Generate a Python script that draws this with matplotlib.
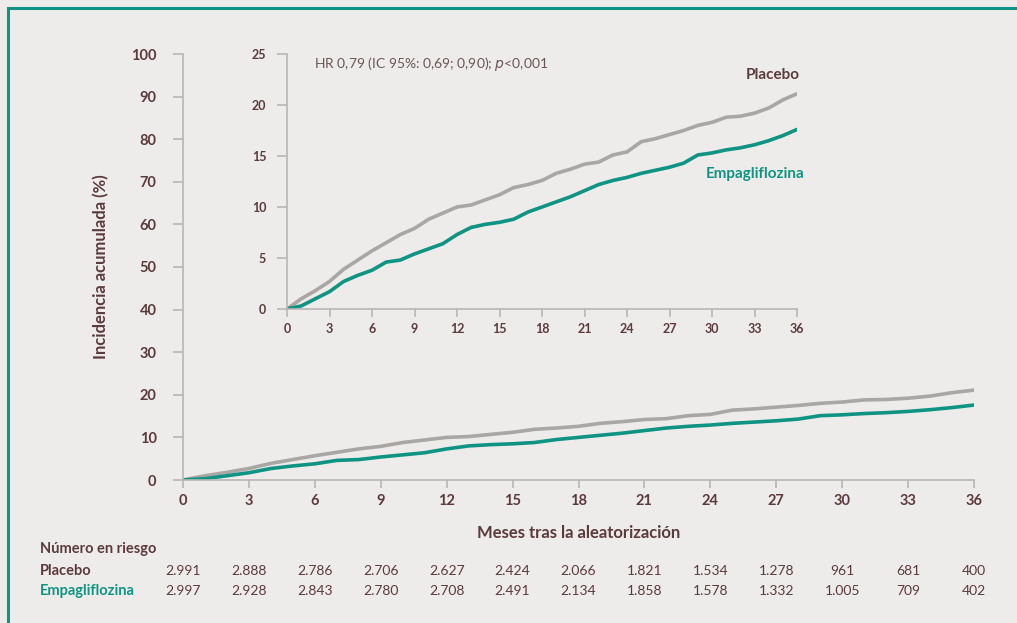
import matplotlib.pyplot as plt
from matplotlib.patches import Rectangle

# Cumulative incidence (%), one point per month
months = list(range(0, 37))
placebo = [0, 1.0, 1.8, 2.7, 3.9, 4.8, 5.7, 6.5, 7.3, 7.9, 8.8, 9.4, 10.0,
           10.2, 10.7, 11.2, 11.9, 12.2, 12.6, 13.3, 13.7, 14.2, 14.4, 15.1,
           15.4, 16.4, 16.7, 17.1, 17.5, 18.0, 18.3, 18.8, 18.9, 19.2, 19.7,
           20.5, 21.1]
empa = [0, 0.3, 1.0, 1.7, 2.7, 3.3, 3.8, 4.6, 4.8, 5.4, 5.9, 6.4, 7.3, 8.0,
        8.3, 8.5, 8.8, 9.5, 10.0, 10.5, 11.0, 11.6, 12.2, 12.6, 12.9, 13.3,
        13.6, 13.9, 14.3, 15.1, 15.3, 15.6, 15.8, 16.1, 16.5, 17.0, 17.6]

risk_months = [0, 3, 6, 9, 12, 15, 18, 21, 24, 27, 30, 33, 36]
risk_placebo = ["2.991", "2.888", "2.786", "2.706", "2.627", "2.424", "2.066",
                "1.821", "1.534", "1.278", "961", "681", "400"]
risk_empa = ["2.997", "2.928", "2.843", "2.780", "2.708", "2.491", "2.134",
             "1.858", "1.578", "1.332", "1.005", "709", "402"]

BG = "#eeecea"
TEXT = "#5b3a3c"
GREY = "#a9a6a4"
TEAL = "#0f9483"
AXIS = "#b8b6b4"

plt.rcParams["font.family"] = ["Lato", "DejaVu Sans"]

fig = plt.figure(figsize=(10.17, 6.23), dpi=100, facecolor=BG)
fig.patches.append(Rectangle((8 / 1017, -0.05), 1.2, 1.05 - 8 / 623,
                             transform=fig.transFigure, fill=False,
                             edgecolor=TEAL, linewidth=2.2))


def style_axis(ax, xticks, yticks, fs):
    ax.set_facecolor("none")
    for s in ["top", "right"]:
        ax.spines[s].set_visible(False)
    for s in ["left", "bottom"]:
        ax.spines[s].set_color(AXIS)
        ax.spines[s].set_linewidth(1.2)
    ax.set_xticks(xticks)
    ax.set_yticks(yticks)
    ax.tick_params(axis="both", colors=AXIS, width=1.2, labelcolor=TEXT,
                   labelsize=fs)
    ax.tick_params(axis="y", length=7, pad=12)
    ax.tick_params(axis="x", length=6, pad=4)
    for lab in ax.get_xticklabels() + ax.get_yticklabels():
        lab.set_fontweight("bold")


# main plot
ax = fig.add_axes([183 / 1017, 1 - 480 / 623, (974 - 183) / 1017, (480 - 54) / 623])
ax.plot(months, placebo, color=GREY, lw=2.6, solid_capstyle="round")
ax.plot(months, empa, color=TEAL, lw=2.6, solid_capstyle="round")
ax.set_xlim(0, 36)
ax.set_ylim(0, 100)
style_axis(ax, risk_months, range(0, 101, 10), 10.5)
ax.set_ylabel("Incidencia acumulada (%)", color=TEXT, fontsize=12,
              fontweight="bold", labelpad=16)
ax.set_xlabel("Meses tras la aleatorización", color=TEXT, fontsize=12,
              fontweight="bold", labelpad=12)

# inset
axi = fig.add_axes([287 / 1017, 1 - 309 / 623, (797 - 287) / 1017, (309 - 54) / 623])
axi.plot(months, placebo, color=GREY, lw=2.6, solid_capstyle="round")
axi.plot(months, empa, color=TEAL, lw=2.6, solid_capstyle="round")
axi.set_xlim(0, 36)
axi.set_ylim(0, 25)
style_axis(axi, risk_months, range(0, 26, 5), 9)
axi.tick_params(axis="y", length=7, pad=8)
axi.text(1.9, 24.0, "HR 0,79 (IC 95%: 0,69; 0,90); $\\it{p}$<0,001",
         color="#6b5556", fontsize=10, va="center")
axi.text(36.2, 22.9, "Placebo", color=TEXT, fontsize=11, fontweight="bold",
         ha="right", va="center")
axi.text(36.5, 13.2, "Empagliflozina", color=TEAL, fontsize=11,
         fontweight="bold", ha="right", va="center")

# number at risk table
fig.text(40 / 1017, 1 - 549 / 623, "Número en riesgo", color=TEXT,
         fontsize=10.5, fontweight="bold", va="center")
fig.text(40 / 1017, 1 - 571 / 623, "Placebo", color=TEXT,
         fontsize=10.5, fontweight="bold", va="center")
fig.text(40 / 1017, 1 - 591 / 623, "Empagliflozina", color=TEAL,
         fontsize=10.5, fontweight="bold", va="center")
for m, p, e in zip(risk_months, risk_placebo, risk_empa):
    xf = fig.transFigure.inverted().transform(ax.transData.transform((m, 0)))[0]
    fig.text(xf, 1 - 571 / 623, p, color=TEXT, fontsize=10, ha="center", va="center")
    fig.text(xf, 1 - 591 / 623, e, color=TEXT, fontsize=10, ha="center", va="center")

fig.savefig("out.png", dpi=100, facecolor=BG)
